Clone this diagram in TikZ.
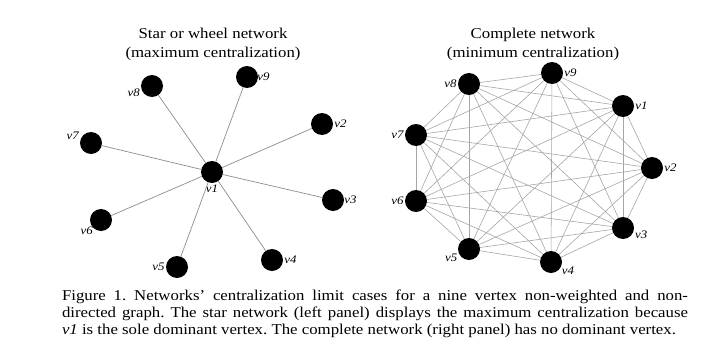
\documentclass[tikz,border=0pt]{standalone}
\usepackage{fontspec}
\setmainfont[FakeStretch=1.12]{Liberation Serif}
\usepackage{tikz}
\frenchspacing

\begin{document}
\begin{tikzpicture}[x=1pt,y=-1pt,
  vert/.style={circle,fill=black,minimum size=22pt,inner sep=0pt},
  vlab/.style={font=\fontsize{11.5}{11.5}\selectfont\itshape,inner sep=1pt},
  edge/.style={draw=black!45,line width=0.7pt},
  kedge/.style={draw=black!35,line width=0.6pt},
  ttl/.style={font=\fontsize{15}{19}\selectfont,align=center}]
  \useasboundingbox (0,0) rectangle (718,351);
  % left panel: star
  \node[ttl] (tstar) at (213,44) {Star or wheel network\\(maximum centralization)};
  \node[vert,label={[vlab,label distance=1pt]below:v1}] (s1) at (212,172) {};
  \node[vert,label={[vlab]0:v2}] (s2) at (322,124) {};
  \node[vert,label={[vlab,label distance=-1pt]0:v3}] (s3) at (333,200) {};
  \node[vert,label={[vlab]0:v4}] (s4) at (272,260) {};
  \node[vert,label={[vlab]180:v5}] (s5) at (177,267) {};
  \node[vert,label={[vlab,label distance=-2pt]220:v6}] (s6) at (101,220) {};
  \node[vert,label={[vlab]170:v7}] (s7) at (91,143) {};
  \node[vert,label={[vlab]190:v8}] (s8) at (152,86) {};
  \node[vert,label={[vlab,label distance=-2pt]0:v9}] (s9) at (247,77) {};
  \foreach \i in {2,...,9}
    \draw[edge] (s1) -- (s\i);
  % right panel: complete
  \node[ttl] (tfull) at (533,44) {Complete network\\(minimum centralization)};
  \node[vert,label={[vlab]0:v1}] (c1) at (623,106) {};
  \node[vert,label={[vlab]0:v2}] (c2) at (652,168) {};
  \node[vert,label={[vlab]-10:v3}] (c3) at (623,228) {};
  \node[vert,label={[vlab,label distance=-1pt]-20:v4}] (c4) at (551,262) {};
  \node[vert,label={[vlab]200:v5}] (c5) at (469,249) {};
  \node[vert,label={[vlab]180:v6}] (c6) at (416,201) {};
  \node[vert,label={[vlab]180:v7}] (c7) at (416,135) {};
  \node[vert,label={[vlab]180:v8}] (c8) at (469,84) {};
  \node[vert,label={[vlab]0:v9}] (c9) at (552,73) {};
  \foreach \i in {1,...,8}{
    \pgfmathtruncatemacro{\nxt}{\i+1}
    \foreach \j in {\nxt,...,9}
      \draw[kedge] (c\i) -- (c\j);
  }
  % caption
  \node[font=\fontsize{15}{17}\selectfont,text width=626pt,align=justify,inner sep=0pt] (cap) at (375,314)
    {Figure 1. Networks' centralization limit cases for a nine vertex non-weighted and non-\linebreak directed graph. The star network (left panel) displays the maximum centralization because\linebreak \textit{v1} is the sole dominant vertex. The complete network (right panel) has no dominant vertex.};
\end{tikzpicture}
\end{document}
